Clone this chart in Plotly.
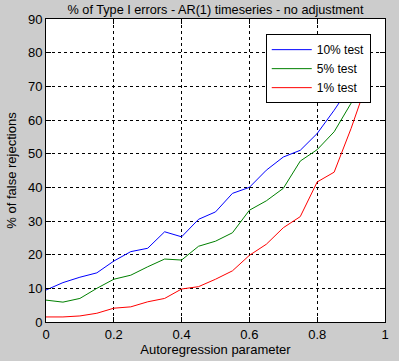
import plotly.graph_objects as go

ar_param = [0.0, 0.05, 0.1, 0.15, 0.2, 0.25, 0.3, 0.35, 0.4, 0.45,
            0.5, 0.55, 0.6, 0.65, 0.7, 0.75, 0.8, 0.85, 0.9, 0.95]
test10 = [9.5, 11.7, 13.3, 14.6, 18.1, 20.9, 21.9, 26.8, 25.3, 30.5,
          32.7, 38.2, 40.0, 45.1, 49.0, 51.0, 56.0, 62.9, 70.4, 78.0]
test5 = [6.5, 5.9, 7.0, 10.0, 12.7, 13.9, 16.4, 18.7, 18.4, 22.5,
         24.0, 26.5, 33.2, 36.0, 39.7, 47.8, 51.2, 56.5, 65.0, 74.0]
test1 = [1.5, 1.5, 1.8, 2.6, 4.1, 4.5, 6.0, 7.0, 9.8, 10.5,
         12.7, 15.2, 19.8, 23.1, 28.0, 31.3, 41.6, 44.5, 57.5, 72.0]

series_names = ["10% test", "5% test", "1% test"]
series_colors = ["#0000ff", "#008000", "#ff0000"]
x_ticks = [0, 0.2, 0.4, 0.6, 0.8, 1]
x_ticklabels = ["0", "0.2", "0.4", "0.6", "0.8", "1"]
y_ticks = [0, 10, 20, 30, 40, 50, 60, 70, 80, 90]

fig = go.Figure()
for name, vals, col in zip(series_names, [test10, test5, test1], series_colors):
    fig.add_trace(go.Scatter(x=ar_param, y=vals, mode="lines", name=name,
                             line=dict(color=col, width=1)))

font_family = "Liberation Sans, Arial, sans-serif"
fig.update_layout(
    width=399, height=361,
    margin=dict(l=46, r=14, t=19, b=39, autoexpand=False),
    paper_bgcolor="#cccccc",
    plot_bgcolor="#ffffff",
    font=dict(family=font_family, size=13, color="#000000"),
    title=dict(text="% of Type I errors - AR(1) timeseries - no adjustment",
               x=(46 + 385) / 2 / 399, xanchor="center", xref="container",
               y=1 - 10 / 361, yanchor="middle", yref="container",
               automargin=False,
               font=dict(size=12.7, family=font_family, color="#000000")),
    showlegend=True,
    legend=dict(x=0.958, y=0.950, xanchor="right", yanchor="top",
                bgcolor="#ffffff", bordercolor="#000000", borderwidth=1,
                font=dict(size=12, family=font_family), tracegroupgap=0,
                itemwidth=40),
    xaxis=dict(range=[0, 1], tickvals=x_ticks, ticktext=x_ticklabels,
               automargin=False,
               showgrid=True, gridcolor="#000000", griddash="3px,3px", gridwidth=1,
               showline=True, linecolor="#000000", linewidth=1, mirror="ticks",
               ticks="inside", ticklen=5, tickcolor="#000000", zeroline=False,
               title=dict(text="Autoregression parameter", standoff=4,
                          font=dict(size=13))),
    yaxis=dict(range=[0, 90], tickvals=y_ticks,
               automargin=False,
               showgrid=True, gridcolor="#000000", griddash="3px,3px", gridwidth=1,
               showline=True, linecolor="#000000", linewidth=1, mirror="ticks",
               ticks="inside", ticklen=5, tickcolor="#000000", zeroline=False,
               title=dict(text="% of false rejections", standoff=8,
                          font=dict(size=13))),
)

fig.write_html(
    "out.html",
    config={"displayModeBar": False},
    post_script="document.body.style.margin='0';document.body.style.background='#cccccc';",
)
